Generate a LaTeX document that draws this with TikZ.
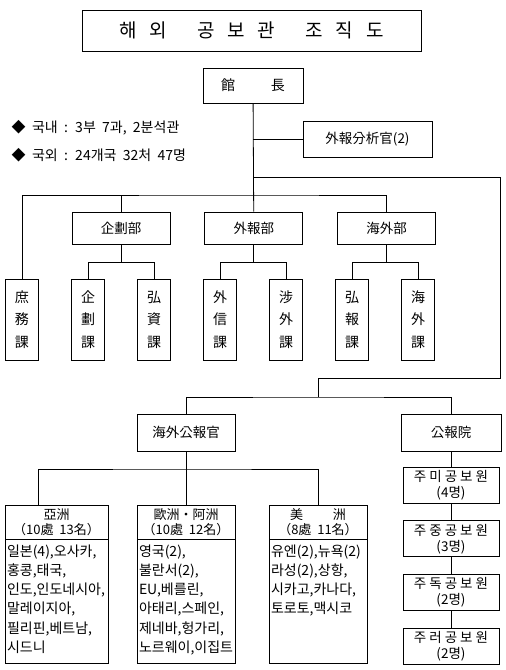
\documentclass[tikz,border=0pt]{standalone}
\usepackage{fontspec}
\setmainfont{Noto Sans CJK KR}
\newfontfamily\widefont[WordSpace=2.4]{Noto Sans CJK KR}
\newfontfamily\headfont[WordSpace=2]{Noto Sans CJK KR}
\usepackage{tikz}
\usetikzlibrary{positioning}

\begin{document}
\begin{tikzpicture}[x=1pt, y=-1pt, line width=0.8pt]
    \tikzstyle{box} = [rectangle, draw, inner sep=0pt, font=\fontsize{13.5}{16}\selectfont]
    \tikzstyle{dept} = [box, minimum width=98pt, minimum height=32pt]
    \tikzstyle{section} = [box, minimum width=33pt, minimum height=81pt, align=center, font=\fontsize{14}{22.5}\selectfont]
    \tikzstyle{regionhead} = [box, minimum height=34pt, align=center, font=\headfont\fontsize{13}{15}\selectfont]
    \tikzstyle{regionbody} = [box, inner xsep=2pt, inner ysep=5pt, font=\fontsize{14}{19.2}\selectfont]
    \tikzstyle{office} = [box, minimum width=96pt, minimum height=36pt, align=center, font=\fontsize{13.5}{16}\selectfont]
    \tikzstyle{note} = [anchor=west, font=\widefont\fontsize{14}{14}\selectfont]
    \tikzstyle{line} = [draw]

    \useasboundingbox (0,0) rectangle (506,670);

    \node [box, minimum width=339pt, minimum height=41pt, font=\fontsize{19}{19}\selectfont] (title) at (251.5,30.5) {해\hspace{13pt}외\hspace{30pt}공\hspace{13pt}보\hspace{13pt}관\hspace{30pt}조\hspace{13pt}직\hspace{13pt}도};

    \node [box, minimum width=100pt, minimum height=35pt, font=\fontsize{14}{14}\selectfont] (chief) at (253,85.5) {館\hspace{36pt}長};
    \node [box, minimum width=129pt, minimum height=36pt] (analyst) at (367.5,139) {外報分析官(2)};

    \node [note] (domestic) at (8,128) {◆ 국내 : 3부 7과, 2분석관};
    \node [note] (overseas) at (8,155) {◆ 국외 : 24개국 32처 47명};

    % departments and sections
    \node [dept] (planning) at (121,228) {企劃部};
    \node [dept, right=34pt of planning] (external) {外報部};
    \node [dept, right=34pt of external] (abroad) {海外部};

    \foreach \name/\txt [count=\i from 0] in {general/{庶\\務\\課}, plansec/{企\\劃\\課}, promosec/{弘\\資\\課}, newssec/{外\\信\\課}, liaisonsec/{涉\\外\\課}, pressec/{弘\\報\\課}, abroadsec/{海\\外\\課}}
        \node [section] (\name) at (22+66*\i,319.5) {\txt};

    \coordinate (deptbus) at (253,195);
    \path [line] (chief) -- (external);
    \path [line] (analyst.west) -- (analyst.west -| chief.south);
    \path [line] (general.north) |- (deptbus) -| (abroad.north);
    \path [line] (deptbus -| planning.north) -- (planning.north);
    \foreach \d/\a/\b in {planning/plansec/promosec, external/newssec/liaisonsec, abroad/pressec/abroadsec} {
        \path [line] (\d.south) -- ++(0,18) coordinate (\d bus);
        \path [line] (\a.north) |- (\d bus) -| (\b.north);
    }

    % overseas offices
    \node [box, minimum width=98pt, minimum height=37pt] (prattache) at (186,432.5) {海外公報官};
    \node [box, minimum width=100pt, minimum height=37pt] (prservice) at (451,432.5) {公報院};

    \coordinate (tap) at (253,177);
    \coordinate (rightturn) at (500,378);
    \coordinate (drop) at (318,397);
    \path [line] (tap) -| (rightturn) -| (drop);
    \path [line] (prattache.north) |- (drop) -| (prservice.north);

    \node [regionhead, minimum width=103pt] (asiahead) at (56.5,522) {亞洲\\（10處 13名）};
    \node [regionhead, minimum width=98pt] (eurohead) at (186,522) {歐洲・阿洲\\（10處 12名）};
    \node [regionhead, minimum width=98pt] (amerhead) at (318,522) {美\hspace{30pt}洲\\（8處 11名）};

    \node [regionbody, below=0pt of asiahead] (asiabody) {\parbox[c][114pt][t]{99pt}{\raggedright 일본(4),오사카,\\홍콩,태국,\\인도,인도네시아,\\말레이지아,\\필리핀,베트남,\\시드니}};
    \node [regionbody, below=0pt of eurohead] (eurobody) {\parbox[c][114pt][t]{94pt}{\raggedright 영국(2),\\불란서(2),\\EU,베를린,\\아태리,스페인,\\제네바,헝가리,\\노르웨이,이집트}};
    \node [regionbody, below=0pt of amerhead] (amerbody) {\parbox[c][114pt][t]{94pt}{\raggedright 유엔(2),뉴욕(2)\\라성(2),상항,\\시카고,카나다,\\토로토,맥시코}};

    \coordinate (regionbus) at (186,469);
    \path [line] (prattache) -- (eurohead);
    \path [line] ([xshift=34pt]asiahead.north west) |- (regionbus) -| (amerhead.north);

    \node [office] (usa) at (451,485) {주 미 공 보 원\\(4명)};
    \node [office, below=17pt of usa] (china) {주 중 공 보 원\\(3명)};
    \node [office, below=17pt of china] (germany) {주 독 공 보 원\\(2명)};
    \node [office, below=17pt of germany] (russia) {주 러 공 보 원\\(2명)};
    \path [line] (prservice) -- (usa);
    \path [line] (usa) -- (china);
    \path [line] (china) -- (germany);
    \path [line] (germany) -- (russia);
\end{tikzpicture}
\end{document}
